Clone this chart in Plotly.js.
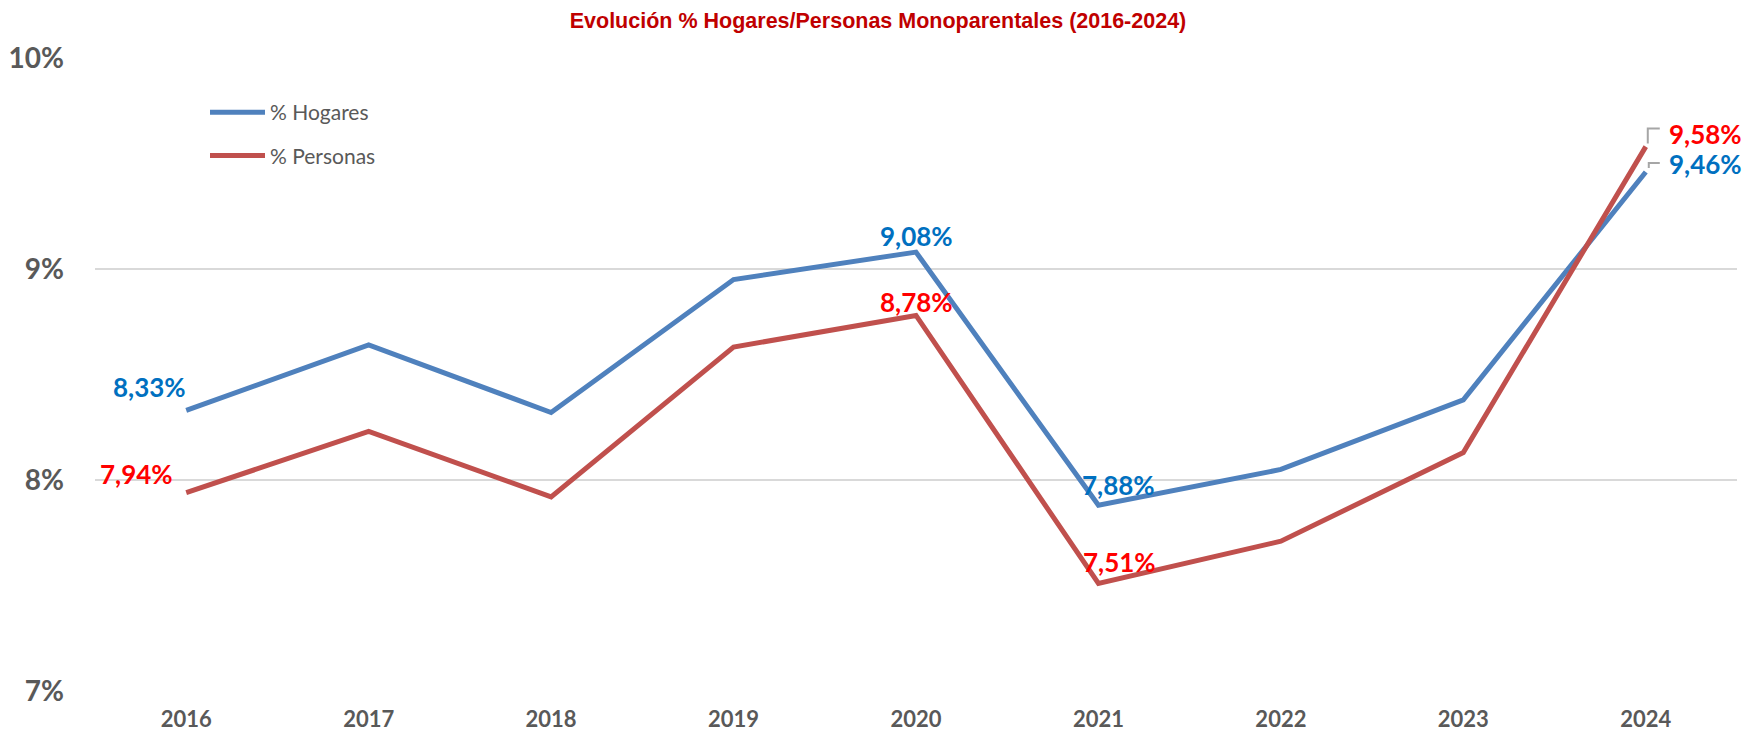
<!DOCTYPE html>
<html>
<head>
<meta charset="utf-8">
<script src="https://cdn.plot.ly/plotly-3.0.1.min.js"></script>
<style>
  html, body { margin: 0; padding: 0; background: #ffffff; }
  #chart { width: 1743px; height: 732px; }
</style>
</head>
<body>
<div id="chart"></div>
<script>
// ---- data ----
const years = ['2016', '2017', '2018', '2019', '2020', '2021', '2022', '2023', '2024'];
const hogares = [8.33, 8.64, 8.32, 8.95, 9.08, 7.88, 8.05, 8.38, 9.46];
const personas = [7.94, 8.23, 7.92, 8.63, 8.78, 7.51, 7.71, 8.13, 9.58];
const seriesNames = ['% Hogares', '% Personas'];
const yTickVals = [7, 8, 9, 10];
const yTickText = ['7%', '8%', '9%', '10%'];
const labelledYears = ['2016', '2020', '2021', '2024'];
const titleText = 'Evolución % Hogares/Personas Monoparentales (2016-2024)';

// ---- styles ----
const lineColors = ['#4F81BD', '#C0504D'];
const labelColors = ['#0070C0', '#FF0000'];
const hogLabelPos = {
  '2016': { xanchor: 'right', xshift: 2, yshift: 23 },
  '2020': { xanchor: 'center', xshift: 0, yshift: 16 },
  '2021': { xanchor: 'center', xshift: 20, yshift: 20 },
  '2024': { xanchor: 'left', xshift: 21, yshift: 8 }
};
const perLabelPos = {
  '2016': { xanchor: 'right', xshift: -11, yshift: 19 },
  '2020': { xanchor: 'center', xshift: 0, yshift: 13 },
  '2021': { xanchor: 'center', xshift: 21, yshift: 21 },
  '2024': { xanchor: 'left', xshift: 21, yshift: 13 }
};
// leader lines: pixel offsets [dx, dy(up)] from the point
const leaders = [
  { series: 0, year: '2024', pts: [[3, 4], [3, 9], [14, 9]] },
  { series: 1, year: '2024', pts: [[2, 3], [2, 18], [14, 18]] }
];

const plotTop = 58, plotBottom = 41, plotL = 95, plotR = 6;
const W = 1743, H = 732;
const plotW = W - plotL - plotR, plotH = H - plotTop - plotBottom;
const yRange = [7, 10];
const xRange = [-0.5, years.length - 0.5];
const pxPerCat = plotW / (xRange[1] - xRange[0]);
const pxPerUnit = plotH / (yRange[1] - yRange[0]);

const fmt = v => v.toFixed(2).replace('.', ',') + '%';
const labelFont = (c) => ({ family: 'Lato, Carlito, sans-serif', size: 26, color: c, weight: 'bold' });

const seriesValues = [hogares, personas];
const seriesPos = [hogLabelPos, perLabelPos];

const traces = seriesValues.map((vals, i) => ({
  type: 'scatter',
  mode: 'lines',
  x: years,
  y: vals,
  name: seriesNames[i],
  legendgroup: 'g' + i,
  line: { color: lineColors[i], width: 5 },
  hoverinfo: 'x+y'
}));

const annotations = [];
seriesValues.forEach((vals, i) => {
  labelledYears.forEach(yr => {
    const idx = years.indexOf(yr);
    const p = seriesPos[i][yr];
    annotations.push({
      x: idx, y: vals[idx], xref: 'x', yref: 'y',
      text: fmt(vals[idx]),
      showarrow: false,
      xanchor: p.xanchor, yanchor: 'middle',
      xshift: p.xshift, yshift: p.yshift,
      font: labelFont(labelColors[i])
    });
  });
});

const shapes = leaders.map(l => {
  const xi = years.indexOf(l.year);
  const yv = seriesValues[l.series][xi];
  const path = l.pts.map((p, k) =>
    (k === 0 ? 'M ' : 'L ') + (xi + p[0] / pxPerCat).toFixed(5) + ',' + (yv + p[1] / pxPerUnit).toFixed(5)
  ).join(' ');
  return {
    type: 'path', xref: 'x', yref: 'y', path: path,
    line: { color: '#A6A6A6', width: 2 }
  };
});

const layout = {
  width: W, height: H,
  paper_bgcolor: '#ffffff', plot_bgcolor: '#ffffff',
  margin: { l: plotL, r: plotR, t: plotTop, b: plotBottom, pad: 0, autoexpand: false },
  title: {
    text: titleText,
    font: { family: 'Liberation Sans, Arial, sans-serif', size: 21.5, color: '#C00000', weight: 'bold' },
    x: 878 / W, xref: 'container', xanchor: 'center',
    y: 1 - 20 / H, yref: 'container', yanchor: 'middle'
  },
  showlegend: true,
  legend: {
    xref: 'paper', yref: 'paper',
    x: (205 - plotL) / plotW, y: 1 - (92 - plotTop) / plotH, xanchor: 'left', yanchor: 'top',
    bgcolor: 'rgba(0,0,0,0)',
    font: { family: 'Lato, Carlito, sans-serif', size: 21, color: '#595959' },
    traceorder: 'grouped', tracegroupgap: 13,
    itemwidth: 55
  },
  xaxis: {
    type: 'category',
    range: xRange,
    autorange: false,
    showgrid: false, zeroline: false, showline: false,
    ticks: '',
    tickfont: { family: 'Lato, Carlito, sans-serif', size: 22, color: '#595959', weight: 'bold' },
    ticklabelstandoff: 13,
    fixedrange: true
  },
  yaxis: {
    range: yRange,
    autorange: false,
    tickvals: yTickVals, ticktext: yTickText,
    showgrid: true, gridcolor: '#D9D9D9', gridwidth: 2,
    zeroline: false, showline: false, ticks: '',
    tickfont: { family: 'Lato, Carlito, sans-serif', size: 28, color: '#595959', weight: 'bold' },
    ticklabelstandoff: 30,
    fixedrange: true
  },
  annotations: annotations,
  shapes: shapes
};

Plotly.newPlot('chart', traces, layout, { displayModeBar: false, staticPlot: true });
</script>
</body>
</html>
